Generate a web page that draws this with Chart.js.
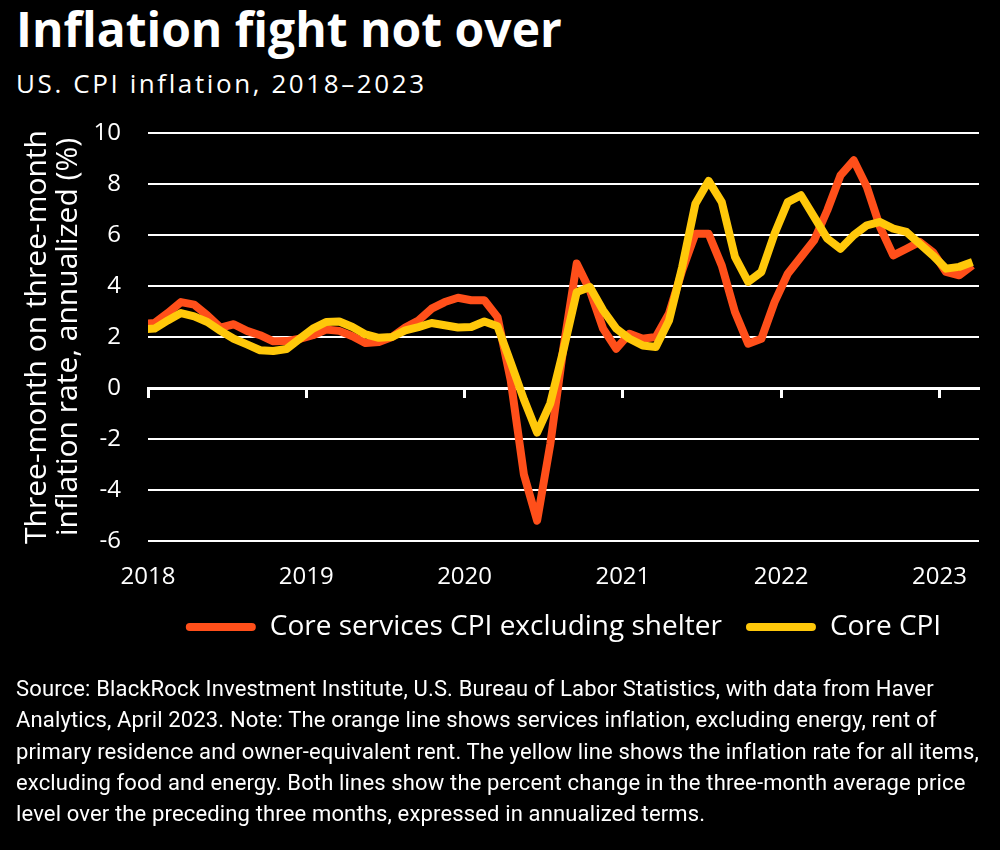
<!DOCTYPE html>
<html lang="en">
<head>
<meta charset="utf-8">
<title>Inflation fight not over</title>
<script src="https://cdn.jsdelivr.net/npm/chart.js@4.4.1/dist/chart.umd.min.js"></script>
<style>
  html, body { margin: 0; padding: 0; background: #000; }
  body { position: relative; width: 1000px; height: 850px; overflow: hidden; color: #fff; font-family: "Open Sans", Roboto, sans-serif; }
  .title { position: absolute; left: 16px; top: 1px; font-size: 48px; line-height: 56px; font-weight: 700; white-space: nowrap; }
  .subtitle { position: absolute; left: 16px; top: 68px; font-size: 26px; line-height: 30px; letter-spacing: 2.6px; white-space: nowrap; }
  .chart-box { position: absolute; left: 0; top: 100px; width: 1000px; height: 600px; }
  .note { position: absolute; left: 16px; top: 673px; font-family: Roboto, sans-serif; font-size: 22px; line-height: 31.3px; letter-spacing: 0.15px; white-space: nowrap; }
</style>
</head>
<body>
<div class="title">Inflation fight not over</div>
<div class="subtitle">US. CPI inflation, 2018–2023</div>
<div class="chart-box"><canvas id="chart"></canvas></div>
<div class="note">Source: BlackRock Investment Institute, U.S. Bureau of Labor Statistics, with data from Haver<br>Analytics, April 2023. Note: The orange line shows services inflation, excluding energy, rent of<br>primary residence and owner-equivalent rent. The yellow line shows the inflation rate for all items,<br>excluding food and energy. Both lines show the percent change in the three-month average price<br>level over the preceding three months, expressed in annualized terms.</div>
<script>
// monthly values, Dec 2017 - Mar 2023 (Dec 2017 is cut off by the plot edge)
const firstMonth = [2017, 12];

const coreServicesExShelter = [
  2.5,
  2.55, 2.94, 3.37, 3.27, 2.85, 2.37, 2.5, 2.24, 2.07, 1.83, 1.84, 1.93,
  2.07, 2.29, 2.24, 2.03, 1.76, 1.8, 2.0, 2.37, 2.65, 3.11, 3.37, 3.54,
  3.44, 3.44, 2.78, 0.3, -3.4, -5.2, -2.2, 1.6, 4.88, 3.83, 2.33, 1.54,
  2.13, 1.93, 2.0, 2.92, 4.61, 6.05, 6.05, 4.8, 2.98, 1.74, 1.93, 3.37,
  4.48, 5.14, 5.79, 6.97, 8.34, 8.93, 7.88, 6.31, 5.2, 5.46, 5.73, 5.33,
  4.55, 4.42, 4.81
];

const coreCpi = [
  2.3,
  2.33, 2.65, 2.94, 2.81, 2.59, 2.24, 1.93, 1.71, 1.48, 1.45, 1.53, 1.93,
  2.33, 2.59, 2.61, 2.39, 2.1, 1.97, 2.0, 2.26, 2.39, 2.55, 2.46, 2.37,
  2.39, 2.61, 2.42, 1.0, -0.45, -1.75, -0.6, 1.5, 3.76, 3.96, 3.05, 2.33,
  1.93, 1.67, 1.61, 2.65, 4.75, 7.23, 8.12, 7.29, 5.14, 4.16, 4.55, 6.05,
  7.29, 7.56, 6.71, 5.86, 5.46, 5.99, 6.38, 6.51, 6.25, 6.12, 5.66, 5.2,
  4.68, 4.75, 4.94
];

const yearTicks = [2018, 2019, 2020, 2021, 2022, 2023];
const yTicks = [-6, -4, -2, 0, 2, 4, 6, 8, 10];
const xEnd = 2023 + 3 / 12; // end of March 2023

const ORANGE = '#ff4f1a';
const YELLOW = '#ffc80a';

// each month sits in the middle of its month on a decimal-year axis
const monthX = coreCpi.map((_, i) => {
  const m = firstMonth[1] - 1 + i;
  return firstMonth[0] + Math.floor(m / 12) + ((m % 12) + 0.5) / 12;
});

const toPoints = arr => arr.map((v, i) => ({ x: monthX[i], y: v }));

Chart.defaults.font.family = '"Open Sans", Roboto, sans-serif';
Chart.defaults.color = '#fff';

new Chart(document.getElementById('chart'), {
  type: 'line',
  data: {
    datasets: [
      {
        label: 'Core services CPI excluding shelter',
        data: toPoints(coreServicesExShelter),
        borderColor: ORANGE,
        backgroundColor: ORANGE,
        borderWidth: 8,
        borderJoinStyle: 'round',
        pointRadius: 0,
        tension: 0,
        order: 1
      },
      {
        label: 'Core CPI',
        data: toPoints(coreCpi),
        borderColor: YELLOW,
        backgroundColor: YELLOW,
        borderWidth: 8,
        borderJoinStyle: 'round',
        pointRadius: 0,
        tension: 0,
        order: 0
      }
    ]
  },
  options: {
    responsive: true,
    maintainAspectRatio: false,
    animation: false,
    layout: { padding: { top: 33, right: 21, bottom: 49, left: 0 } },
    plugins: {
      tooltip: { enabled: false },
      legend: {
        position: 'bottom',
        fullSize: false,
        labels: {
          color: '#fff',
          font: { size: 28 },
          boxWidth: 70,
          boxHeight: 8,
          useBorderRadius: true,
          borderRadius: 4,
          padding: 24,
          sort: (a, b) => a.datasetIndex - b.datasetIndex,
          generateLabels: chart =>
            Chart.defaults.plugins.legend.labels.generateLabels(chart).map(item => ({ ...item, lineWidth: 0 }))
        }
      }
    },
    scales: {
      x: {
        type: 'linear',
        min: yearTicks[0],
        max: xEnd,
        afterBuildTicks: s => { s.ticks = yearTicks.map(v => ({ value: v })); },
        afterFit: s => { s.height = 48; },
        grid: { display: false, drawTicks: false },
        border: { display: false },
        ticks: {
          color: '#fff',
          font: { size: 24 },
          padding: 22,
          maxRotation: 0,
          autoSkip: false,
          callback: v => String(v)
        }
      },
      xZero: {
        type: 'linear',
        axis: 'x',
        position: { y: 0 },
        min: yearTicks[0],
        max: xEnd,
        afterBuildTicks: s => { s.ticks = yearTicks.map(v => ({ value: v })); },
        grid: { drawOnChartArea: false, drawTicks: true, tickLength: 8, tickWidth: 3, tickColor: '#fff' },
        border: { display: true, color: '#fff', width: 3 },
        ticks: { display: false }
      },
      y: {
        min: yTicks[0],
        max: yTicks[yTicks.length - 1],
        afterBuildTicks: s => { s.ticks = yTicks.map(v => ({ value: v })); },
        afterFit: s => { s.width = 148; },
        grid: {
          color: '#fff',
          lineWidth: c => (c.tick && c.tick.value === 0 ? 3 : 2),
          drawTicks: true,
          tickLength: 24,
          tickColor: 'transparent'
        },
        border: { display: false },
        ticks: { color: '#fff', font: { size: 24 }, padding: 3 },
        title: {
          display: true,
          text: ['Three-month on three-month', 'inflation rate, annualized (%)'],
          color: '#fff',
          font: { size: 30, lineHeight: 1.03 },
          padding: { top: 22, bottom: 0 }
        }
      }
    }
  }
});
</script>
</body>
</html>
